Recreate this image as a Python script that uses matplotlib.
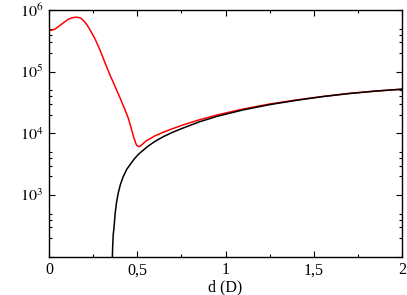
import numpy as np
import matplotlib
matplotlib.use("Agg")
import matplotlib.pyplot as plt
from matplotlib.ticker import FixedLocator, LogLocator, NullFormatter

plt.rcParams['font.family'] = ['Liberation Serif', 'DejaVu Serif']
plt.rcParams['mathtext.fontset'] = 'stix'

# black curve
d_black = [0.359, 0.361, 0.364, 0.368, 0.375, 0.383, 0.393, 0.405, 0.421, 0.44,
           0.459, 0.48, 0.506, 0.535, 0.56, 0.60, 0.65, 0.70, 0.76, 0.85,
           0.95, 1.10, 1.25, 1.40, 1.55, 1.70, 1.85, 2.00]
v_black = [100, 150, 230, 290, 510, 770, 1100, 1500, 2000, 2600,
           3100, 3750, 4550, 5370, 6170, 7400, 8900, 10400, 12200, 15300,
           18800, 24000, 29200, 34300, 39400, 44200, 48400, 52000]

# red curve
d_red = [0.0, 0.015, 0.034, 0.06, 0.09, 0.11, 0.13, 0.145, 0.157, 0.17,
         0.185, 0.20, 0.215, 0.23, 0.245, 0.261, 0.29, 0.317, 0.345, 0.374,
         0.40, 0.431, 0.45, 0.468, 0.48, 0.495, 0.505, 0.515, 0.525, 0.54,
         0.555, 0.57, 0.60, 0.65, 0.70, 0.76, 0.85, 0.95, 1.10, 1.25,
         1.40, 1.55, 1.70, 1.85, 2.00]
v_red = [4.74e5, 4.7e5, 4.9e5, 5.56e5, 6.46e5, 7.08e5, 7.45e5, 7.6e5, 7.62e5, 7.55e5,
         7.2e5, 6.5e5, 5.75e5, 4.9e5, 4.1e5, 3.4e5, 2.2e5, 1.4e5, 8.9e4, 5.8e4,
         3.9e4, 2.4e4, 1.74e4, 1.15e4, 8.6e3, 6.5e3, 6.12e3, 6.15e3, 6.5e3, 7.1e3,
         7.7e3, 8.1e3, 9.1e3, 1.05e4, 1.19e4, 1.37e4, 1.65e4, 1.98e4, 2.48e4, 2.99e4,
         3.47e4, 3.96e4, 4.44e4, 4.85e4, 5.2e4]

x_ticks = [0, 0.5, 1, 1.5, 2]
x_labels = ['0', '0,5', '1', '1,5', '2']
y_ticks = [1e2, 1e3, 1e4, 1e5, 1e6]
y_labels = ['', '$10^3$', '$10^4$', '$10^5$', '$10^6$']

fig = plt.figure(figsize=(4.07, 2.95), dpi=100)
ax = fig.add_axes([49 / 407, 38.3 / 295, 353 / 407, 246.7 / 295])

ax.plot(d_red, v_red, color='red', lw=1.1)
ax.plot(d_black, v_black, color='black', lw=1.1)

ax.set_yscale('log')
ax.set_xlim(0, 2)
ax.set_ylim(1e2, 1e6)

ax.xaxis.set_major_locator(FixedLocator(x_ticks))
ax.set_xticklabels(x_labels)
ax.xaxis.set_minor_locator(FixedLocator([0.25, 0.75, 1.25, 1.75]))
ax.yaxis.set_major_locator(FixedLocator(y_ticks))
ax.set_yticklabels(y_labels)
ax.yaxis.set_minor_locator(LogLocator(base=10, subs=[2, 3, 4, 5]))
ax.yaxis.set_minor_formatter(NullFormatter())

ax.tick_params(which='both', direction='in', top=True, right=True, labelsize=11.5)
ax.tick_params(which='major', length=4.5, width=0.8, pad=4)
ax.tick_params(which='minor', length=2.5, width=0.8)
for s in ax.spines.values():
    s.set_linewidth(1.0)

ax.set_xlabel('d (D)', fontsize=11.5, labelpad=1)

fig.savefig('out.png', dpi=100)
